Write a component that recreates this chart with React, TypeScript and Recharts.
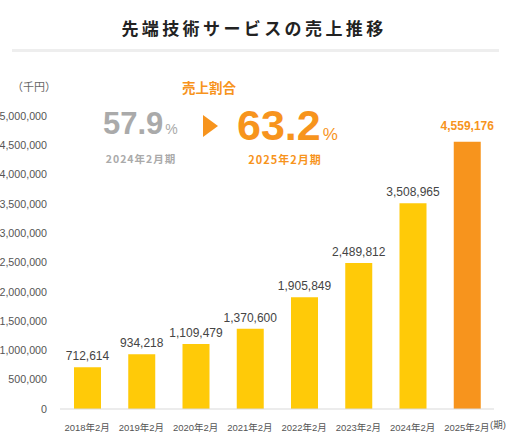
import React from "react";
import { BarChart, Bar, XAxis, YAxis, Cell, LabelList } from "recharts";

const categories = ["2018年2月", "2019年2月", "2020年2月", "2021年2月", "2022年2月", "2023年2月", "2024年2月", "2025年2月"];
const sales = [712614, 934218, 1109479, 1370600, 1905849, 2489812, 3508965, 4559176];
const yTicks = [0, 500000, 1000000, 1500000, 2000000, 2500000, 3000000, 3500000, 4000000, 4500000, 5000000];

const title = "先端技術サービスの売上推移";
const unitLabel = "（千円）";
const ratioTitle = "売上割合";
const prevRatio = "57.9";
const prevPeriod = "2024年2月期";
const curRatio = "63.2";
const curPeriod = "2025年2月期";
const periodSuffix = "(期)";

const data = categories.map((c, i) => ({ name: c, value: sales[i] }));

const YELLOW = "#FFCA08";
const ORANGE = "#F7941D";
const FONT = "'Liberation Sans', 'Noto Sans CJK JP', sans-serif";
const JP = "'Noto Sans CJK JP', 'Liberation Sans', sans-serif";

const fmt = (v: number) => v.toLocaleString("en-US");

const BarLabel = (props: any) => {
  const { x, y, width, value, index } = props;
  const last = index === data.length - 1;
  return (
    <text
      x={x + width / 2}
      y={y - (last ? 12 : 7)}
      textAnchor="middle"
      fill={last ? ORANGE : "#444"}
      fontWeight={last ? 700 : 400}
      fontSize={12}
      fontFamily={FONT}
    >
      {fmt(value)}
    </text>
  );
};

export default function App() {
  return (
    <div style={{ position: "absolute", left: 0, top: 0, width: 521, height: 445, background: "#fff" }}>
      <BarChart width={521} height={445} data={data} margin={{ top: 116, right: 27, bottom: 6, left: 0 }}>
        <XAxis
          dataKey="name"
          height={30}
          axisLine={{ stroke: "#d9d9d9" }}
          tickLine={false}
          tick={{ fontSize: 9.5, fill: "#555", fontFamily: FONT }}
          tickMargin={9}
          interval={0}
        />
        <YAxis
          width={60}
          domain={[0, 5000000]}
          ticks={yTicks}
          axisLine={false}
          tickLine={false}
          tickSize={0}
          tickMargin={13}
          tickFormatter={fmt}
          tick={{ fontSize: 10.7, fill: "#555", fontFamily: FONT }}
          interval={0}
        />
        <Bar dataKey="value" barSize={27} isAnimationActive={false}>
          {data.map((d, i) => (
            <Cell key={d.name} fill={i === data.length - 1 ? ORANGE : YELLOW} />
          ))}
          <LabelList dataKey="value" content={BarLabel} />
        </Bar>
      </BarChart>
      <svg width={521} height={445} style={{ position: "absolute", left: 0, top: 0, pointerEvents: "none" }}>
        <text x={254} y={35} textAnchor="middle" fontSize={17} fontWeight={700} fill="#222" fontFamily={JP} letterSpacing={3.4}>
          {title}
        </text>
        <rect x={12} y={49} width={487} height={3} fill="#eeeeee" />
        <text x={34} y={91} textAnchor="middle" fontSize={11} fill="#666" fontFamily={JP}>
          {unitLabel}
        </text>
        <text x={209} y={93} textAnchor="middle" fontSize={13.5} fontWeight={700} fill={ORANGE} fontFamily={JP}>
          {ratioTitle}
        </text>
        <text x={103} y={134} fontSize={31} fontWeight={700} fill="#aaaaaa" fontFamily={FONT}>
          {prevRatio}
          <tspan fontSize={14} fontWeight={400} dx={2}>%</tspan>
        </text>
        <text x={141} y={163} textAnchor="middle" fontSize={10.5} fontWeight={700} fill="#aaaaaa" fontFamily={JP} letterSpacing={1}>
          {prevPeriod}
        </text>
        <polygon points="203,115 218,126 203,137" fill={ORANGE} />
        <text x={237} y={140} fontSize={43} fontWeight={700} fill={ORANGE} fontFamily={FONT}>
          {curRatio}
          <tspan fontSize={17} fontWeight={400} dx={2}>%</tspan>
        </text>
        <text x={285} y={164} textAnchor="middle" fontSize={11} fontWeight={700} fill={ORANGE} fontFamily={JP} letterSpacing={1}>
          {curPeriod}
        </text>
        <text x={490} y={427.5} fontSize={9.5} fill="#555" fontFamily={FONT}>
          {periodSuffix}
        </text>
      </svg>
    </div>
  );
}
